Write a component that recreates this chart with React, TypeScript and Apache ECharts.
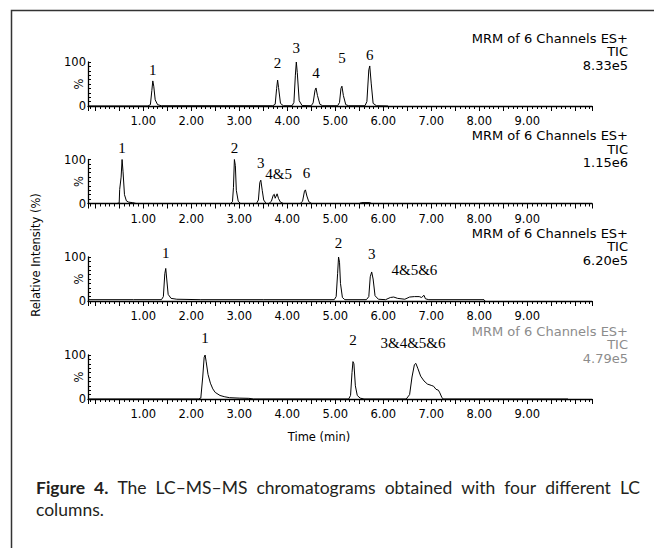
import React, { useEffect, useRef } from "react";
import * as echarts from "echarts";

// ---- data (time in min, relative intensity in %) ----
const trace1: [number, number][] = [
  [-0.15, 0], [1.1, 0], [1.15, 3], [1.18, 35], [1.2, 57], [1.22, 45], [1.25, 14], [1.3, 3], [1.38, 0.5],
  [3.7, 0.5], [3.75, 4], [3.78, 40], [3.8, 59], [3.82, 42], [3.86, 6], [3.92, 0.5],
  [4.1, 0.5], [4.14, 8], [4.17, 70], [4.19, 100], [4.21, 76], [4.25, 12], [4.31, 1],
  [4.5, 0.5], [4.54, 7], [4.58, 36], [4.6, 41], [4.63, 24], [4.68, 4], [4.74, 0.5],
  [5.05, 0.5], [5.09, 8], [5.12, 40], [5.14, 45], [5.17, 24], [5.22, 3], [5.28, 0.5],
  [5.62, 0.5], [5.66, 10], [5.7, 82], [5.72, 91], [5.75, 52], [5.79, 6], [5.86, 0.5], [6.1, 0],
];
const trace2: [number, number][] = [
  [-0.15, 0], [0.45, 0], [0.5, 1], [0.51, 32], [0.54, 60], [0.56, 100], [0.58, 72], [0.61, 20],
  [0.65, 6], [0.7, 3], [0.78, 2], [0.85, 0],
  [2.82, 0], [2.86, 4], [2.88, 36], [2.9, 100], [2.92, 86], [2.94, 30], [2.98, 5], [3.03, 0],
  [3.36, 0], [3.4, 8], [3.43, 48], [3.45, 53], [3.48, 30], [3.51, 8], [3.56, 0],
  [3.62, 0], [3.67, 5], [3.71, 19], [3.73, 21], [3.75, 12], [3.77, 17], [3.79, 22], [3.82, 11], [3.86, 3], [3.92, 0],
  [4.27, 0], [4.32, 5], [4.36, 28], [4.38, 31], [4.41, 17], [4.45, 4], [4.51, 0],
  [5.5, 0], [5.55, 2], [5.72, 2], [5.76, 0], [6.1, 0],
];
const trace3: [number, number][] = [
  [-0.15, 3], [0.8, 3], [1.38, 3], [1.42, 10], [1.45, 62], [1.47, 74], [1.49, 50], [1.52, 15], [1.58, 6],
  [1.7, 4], [2.2, 3], [3.5, 3], [4.98, 3], [5.02, 10], [5.05, 62], [5.07, 100], [5.09, 88], [5.11, 40],
  [5.15, 8], [5.2, 3], [5.65, 3], [5.7, 10], [5.73, 55], [5.76, 66], [5.79, 50], [5.83, 12], [5.9, 4],
  [6.05, 3], [6.15, 8], [6.22, 9], [6.3, 6], [6.45, 4], [6.55, 9], [6.65, 10], [6.75, 10], [6.8, 8],
  [6.85, 13], [6.88, 5], [6.95, 3], [8.1, 3], [8.12, 0],
];
const trace4: [number, number][] = [
  [-0.15, 0], [2.15, 0], [2.2, 2], [2.24, 50], [2.27, 95], [2.29, 100], [2.31, 86], [2.35, 56],
  [2.4, 36], [2.45, 23], [2.5, 15], [2.6, 8], [2.7, 5], [2.8, 3], [3.0, 2], [3.2, 1.5], [3.3, 0],
  [5.28, 0], [5.32, 8], [5.35, 60], [5.37, 85], [5.39, 80], [5.42, 30], [5.46, 8], [5.52, 2], [5.6, 0],
  [6.48, 0], [6.55, 10], [6.6, 50], [6.65, 78], [6.68, 81], [6.72, 70], [6.78, 52], [6.85, 41],
  [6.92, 34], [7.0, 31], [7.05, 29], [7.1, 22], [7.15, 20], [7.18, 14], [7.22, 4], [7.25, 0], [9.85, 0],
];
const traces = [trace1, trace2, trace3, trace4];

// peak labels: [time, intensity level of label centre, text]
const peakLabels1: [number, number, string][] = [
  [1.2, 82, "1"], [3.8, 98, "2"], [4.19, 132, "3"], [4.6, 75, "4"], [5.14, 109, "5"], [5.72, 116, "6"],
];
const peakLabels2: [number, number, string][] = [
  [0.56, 127, "1"], [2.9, 127, "2"], [3.45, 93, "3"], [3.82, 67, "4&5"], [4.4, 69, "6"],
];
const peakLabels3: [number, number, string][] = [
  [1.47, 109, "1"], [5.07, 132, "2"], [5.76, 107, "3"], [6.65, 70, "4&5&6"],
];
const peakLabels4: [number, number, string][] = [
  [2.29, 139, "1"], [5.37, 134, "2"], [6.62, 127, "3&4&5&6"],
];
const peakLabels = [peakLabels1, peakLabels2, peakLabels3, peakLabels4];

const channelText = ["MRM of 6 Channels ES+", "MRM of 6 Channels ES+", "MRM of 6 Channels ES+", "MRM of 6 Channels ES+"];
const ticText = ["TIC", "TIC", "TIC", "TIC"];
const scaleText = ["8.33e5", "1.15e6", "6.20e5", "4.79e5"];
const headerColors = ["#000", "#000", "#000", "#8c8c8c"];

const xTickLabels = ["1.00", "2.00", "3.00", "4.00", "5.00", "6.00", "7.00", "8.00", "9.00"];

const captionBold = ["Figure", "4."];
const captionLine1 = ["The", "LC–MS–MS", "chromatograms", "obtained", "with", "four", "different", "LC"];
const captionLine2 = "columns.";

const gridTops = [62, 159.5, 257, 355];
const GRID_H = 44;
const FONT = "DejaVu Sans";
const CAP_FONT = "Lato";
const CAP_SIZE = 17.5;

export default function App() {
  const ref = useRef<HTMLDivElement>(null);
  useEffect(() => {
    if (!ref.current) return;
    const chart = echarts.init(ref.current, null, { renderer: "svg" });
    const grids = gridTops.map((t) => ({ left: 88, right: 62, top: t, height: GRID_H }));
    const xAxes = gridTops.map((_, i) => ({
      type: "value",
      gridIndex: i,
      min: -0.15,
      max: 10.35,
      splitNumber: 21,
      minInterval: 0.5,
      maxInterval: 0.5,
      axisLine: { show: true, onZero: false, lineStyle: { color: "#000", width: 1.3 } },
      axisTick: { show: true, length: 5, lineStyle: { color: "#000", width: 1 } },
      minorTick: { show: true, splitNumber: 5, length: 3, lineStyle: { color: "#000", width: 1 } },
      splitLine: { show: false },
      minorSplitLine: { show: false },
      axisLabel: {
        showMinLabel: false,
        showMaxLabel: false,
        margin: 9,
        fontFamily: FONT,
        fontSize: 11.5,
        color: "#000",
        formatter: (v: number) => {
          const r = Math.round(v);
          if (Math.abs(v - r) < 1e-6 && r >= 1 && r <= 9) return xTickLabels[r - 1];
          return "";
        },
      },
    }));
    const yAxes = gridTops.map((_, i) => ({
      type: "value",
      gridIndex: i,
      min: 0,
      max: 100,
      interval: 10,
      name: "%",
      nameLocation: "middle",
      nameRotate: 90,
      nameGap: 3,
      nameMoveOverlap: false,
      nameTextStyle: { fontFamily: FONT, fontSize: 11.5, color: "#000" },
      axisLine: { show: true, onZero: false, lineStyle: { color: "#000", width: 1.3 } },
      axisTick: { show: true, inside: true, length: 3, lineStyle: { color: "#000" } },
      splitLine: { show: false },
      axisLabel: {
        margin: 2,
        fontFamily: FONT,
        fontSize: 11.5,
        color: "#000",
        formatter: (v: number) => (v === 0 || v === 100 ? String(v) : ""),
      },
    }));
    const series = traces.map((d, i) => ({
      type: "line",
      xAxisIndex: i,
      yAxisIndex: i,
      data: d,
      showSymbol: false,
      clip: false,
      lineStyle: { color: "#000", width: 1 },
    }));

    const staticGraphics: any[] = [
      {
        type: "rect",
        silent: true,
        shape: { x: 11.5, y: 10.5, width: 720, height: 620 },
        style: { fill: "none", stroke: "#333", lineWidth: 1.5 },
      },
      {
        type: "text",
        x: 36,
        y: 255,
        rotation: Math.PI / 2,
        style: {
          text: "Relative Intensity (%)",
          fontFamily: FONT,
          fontSize: 11.5,
          fill: "#000",
          align: "center",
          verticalAlign: "middle",
        },
      },
      {
        type: "text",
        x: 319,
        y: 437,
        style: {
          text: "Time (min)",
          fontFamily: FONT,
          fontSize: 11.5,
          fill: "#000",
          align: "center",
          verticalAlign: "middle",
        },
      },
      {
        type: "text",
        x: 36,
        y: 509,
        style: {
          text: captionLine2,
          fontFamily: CAP_FONT,
          fontSize: CAP_SIZE,
          fill: "#231f20",
          verticalAlign: "middle",
        },
      },
    ];

    // justified first caption line
    const ctx = document.createElement("canvas").getContext("2d")!;
    const words = [
      ...captionBold.map((w) => ({ w, bold: true })),
      ...captionLine1.map((w) => ({ w, bold: false })),
    ];
    const widths = words.map(({ w, bold }) => {
      ctx.font = `${bold ? "bold " : ""}${CAP_SIZE}px ${CAP_FONT}`;
      return ctx.measureText(w).width;
    });
    const x0 = 36;
    const x1 = 640;
    const total = widths.reduce((a, b) => a + b, 0);
    const gap = (x1 - x0 - total) / (words.length - 1);
    let cx = x0;
    words.forEach(({ w, bold }, k) => {
      staticGraphics.push({
        type: "text",
        x: cx,
        y: 487,
        style: {
          text: w,
          fontFamily: CAP_FONT,
          fontWeight: bold ? "bold" : "normal",
          fontSize: CAP_SIZE,
          fill: "#231f20",
          verticalAlign: "middle",
        },
      });
      cx += widths[k] + gap;
    });

    gridTops.forEach((t, i) => {
      [channelText[i], ticText[i], scaleText[i]].forEach((s, k) => {
        staticGraphics.push({
          type: "text",
          x: 628,
          y: t - 24 + k * 13.5,
          style: {
            text: s,
            fontFamily: FONT,
            fontSize: 13,
            fill: headerColors[i],
            align: "right",
            verticalAlign: "middle",
          },
        });
      });
    });

    chart.setOption({
      animation: false,
      grid: grids,
      xAxis: xAxes,
      yAxis: yAxes,
      series,
      graphic: staticGraphics,
    });

    const labelGraphics: any[] = [];
    peakLabels.forEach((list, i) => {
      list.forEach(([t, v, s]) => {
        const p = chart.convertToPixel({ gridIndex: i }, [t, v]) as number[];
        labelGraphics.push({
          type: "text",
          x: p[0],
          y: p[1],
          style: {
            text: s,
            fontFamily: "Liberation Serif",
            fontSize: 15,
            fill: "#000",
            align: "center",
            verticalAlign: "middle",
          },
        });
      });
    });
    chart.setOption({ graphic: [...staticGraphics, ...labelGraphics] }, { replaceMerge: ["graphic"] });

    return () => chart.dispose();
  }, []);
  return (
    <div
      ref={ref}
      style={{ position: "fixed", left: 0, top: 0, width: 654, height: 548, background: "#fff" }}
    />
  );
}
